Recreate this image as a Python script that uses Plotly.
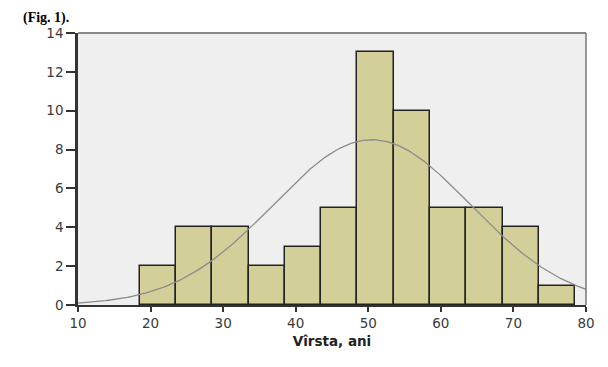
import numpy as np
import plotly.graph_objects as go

# Histogram data (age bins, width 5)
bin_centers = [21, 26, 31, 36, 41, 46, 51, 56, 61, 66, 71, 76]
counts = [2, 4, 4, 2, 3, 5, 13, 10, 5, 5, 4, 1]
bin_width = 5
# Fitted normal curve parameters
fit_mean = 50.5
fit_sd = 13.6
x_ticks = [10, 20, 30, 40, 50, 60, 70, 80]
y_ticks = [0, 2, 4, 6, 8, 10, 12, 14]

n = sum(counts)
xs = np.linspace(10, 80, 300)
ys = n * bin_width / (fit_sd * np.sqrt(2 * np.pi)) * np.exp(-(xs - fit_mean) ** 2 / (2 * fit_sd ** 2))

fig = go.Figure()
fig.add_trace(go.Bar(
    x=bin_centers, y=counts, width=bin_width,
    marker=dict(color="#D3CF99", line=dict(color="#222222", width=1.5)),
    hoverinfo="x+y",
))
fig.add_trace(go.Scatter(
    x=xs, y=ys, mode="lines",
    line=dict(color="#8C8C8C", width=1.3),
    hoverinfo="skip",
))

tick_font = dict(family="DejaVu Sans, sans-serif", size=13.5, color="#3A3A3A")

fig.update_layout(
    width=600, height=359,
    margin=dict(l=70, r=22, t=25, b=62),
    paper_bgcolor="white",
    plot_bgcolor="#EFEFEF",
    showlegend=False,
    bargap=0,
    font=dict(family="DejaVu Sans, sans-serif", size=13, color="#333333"),
    xaxis=dict(
        range=[10, 80], tickvals=x_ticks, ticks="outside", ticklen=5, tickwidth=1.5,
        tickcolor="#333333", showgrid=False, zeroline=False,
        showline=True, linecolor="#333333", linewidth=2, mirror=False,
        title=dict(text="<b>Vîrsta, ani</b>",
                   font=dict(family="DejaVu Sans, sans-serif", size=13.5, color="#222222"),
                   standoff=6),
        tickfont=tick_font,
    ),
    yaxis=dict(
        range=[0, 14], tickvals=y_ticks, ticks="outside", ticklen=9, tickwidth=1.5,
        tickcolor="#333333", showgrid=False, zeroline=False,
        showline=True, linecolor="#333333", linewidth=2.5,
        tickfont=tick_font,
    ),
    shapes=[
        dict(type="line", xref="paper", yref="paper", x0=0, x1=1, y0=1, y1=1,
             line=dict(color="#888888", width=2)),
        dict(type="line", xref="paper", yref="paper", x0=1, x1=1, y0=0, y1=1,
             line=dict(color="#777777", width=1.5)),
    ],
    annotations=[
        dict(text="<b>(Fig. 1).</b>", xref="paper", yref="paper", x=-0.112, y=1, yshift=25,
             xanchor="left", yanchor="top", showarrow=False,
             font=dict(family="Liberation Serif, serif", size=14, color="black")),
    ],
)

fig.write_html("out.html")
